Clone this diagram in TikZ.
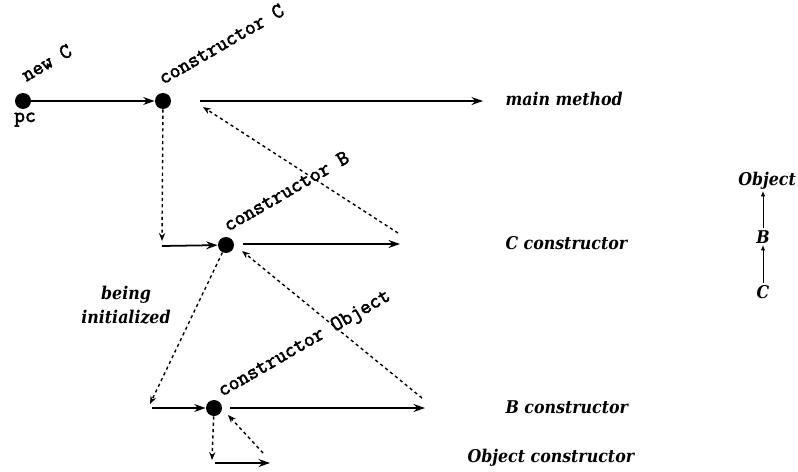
\documentclass[tikz,border=0pt]{standalone}
\usepackage{fontspec}
\setmainfont{DejaVu Serif Condensed}
\newfontfamily\codefont{Latin Modern Mono}[FakeBold=2.5]
\usetikzlibrary{arrows.meta,positioning}

\tikzset{
    punto/.style={circle,fill=black,inner sep=0pt,minimum size=0.32cm},
    mono/.style={font=\codefont\fontsize{12}{14}\selectfont,inner sep=0pt},
    chiamata/.style={mono,rotate=30,anchor=base west},
    testo/.style={font=\bfseries\itshape\fontsize{10}{14}\selectfont,inner sep=1pt},
    freccia/.style={line width=1pt,-{Stealth[length=6.5pt,width=4.5pt]}},
    ritorno/.style={line width=0.8pt,dash pattern=on 1.8pt off 1.8pt,-{Stealth[length=4.5pt,width=3.5pt]}},
    eredita/.style={line width=0.5pt,-{Latex[length=3pt,width=2.5pt]}}
}

\begin{document}
\begin{tikzpicture}
        \useasboundingbox (0,0) rectangle (15.96,-9.44);

        % Punti
        \node[punto] (pc) at (0.46,-2.02) {};
        \node[punto] (c) at (3.26,-2.02) {};
        \node[punto] (b) at (4.52,-4.90) {};
        \node[punto] (o) at (4.28,-8.16) {};

        % Estremi
        \coordinate (cA) at (4.00,-2.02);
        \coordinate (cB) at (9.66,-2.02);
        \coordinate (cR) at (4.06,-2.14);
        \coordinate (cD) at (3.24,-4.82);
        \coordinate (bA) at (3.24,-4.92);
        \coordinate (bB) at (4.86,-4.88);
        \coordinate (bC) at (8.00,-4.88);
        \coordinate (bR) at (7.96,-4.66);
        \coordinate (bS) at (4.84,-5.02);
        \coordinate (bD) at (3.00,-8.08);
        \coordinate (oA) at (3.04,-8.16);
        \coordinate (oB) at (4.60,-8.16);
        \coordinate (oC) at (8.50,-8.16);
        \coordinate (oR) at (8.44,-7.96);
        \coordinate (oD) at (4.24,-9.20);
        \coordinate (oE) at (4.30,-9.26);
        \coordinate (oF) at (5.40,-9.26);
        \coordinate (oG) at (5.26,-9.06);
        \coordinate (oH) at (4.56,-8.30);

        % Chiamate
        \draw[freccia] (pc) -- (c);
        \draw[freccia] (cA) -- (cB);
        \draw[ritorno] (c) -- (cD);
        \draw[freccia] (bA) -- (b);
        \draw[freccia] (bB) -- (bC);
        \draw[ritorno] (bR) -- (cR);
        \draw[ritorno] (b) -- (bD);
        \draw[freccia] (oA) -- (o);
        \draw[freccia] (oB) -- (oC);
        \draw[ritorno] (oR) -- (bS);
        \draw[ritorno] (o) -- (oD);
        \draw[freccia] (oE) -- (oF);
        \draw[ritorno] (oG) -- (oH);

        % Etichette
        \node[chiamata] (newc) at (0.52,-1.64) {new C};
        \node[mono, anchor=base] (pclab) at (0.50,-2.44) {pc};
        \node[chiamata] (costrc) at (3.26,-1.70) {constructor C};
        \node[chiamata] (costrb) at (4.56,-4.64) {constructor B};
        \node[chiamata] (costro) at (4.44,-7.94) {constructor Object};
        \node[testo, align=center] (init) at (2.52,-6.10) {being\\initialized};

        % Pila
        \node[testo, anchor=base west] (main) at (10.07,-2.10) {main method};
        \node[testo, anchor=base west] (pilac) at (10.07,-4.98) {C constructor};
        \node[testo, anchor=base west] (pilab) at (10.07,-8.26) {B constructor};
        \node[testo, anchor=base west] (pilao) at (9.31,-9.24) {Object constructor};

        % Gerarchia
        \node[testo, anchor=base east] (ob) at (15.96,-3.70) {Object};
        \node[testo, anchor=base] (bb) at (15.26,-4.86) {B};
        \node[testo, anchor=base] (cc) at (15.26,-5.96) {C};
        \draw[eredita] (cc) -- (bb);
        \draw[eredita] (bb) -- (bb |- ob.south);
\end{tikzpicture}
\end{document}
